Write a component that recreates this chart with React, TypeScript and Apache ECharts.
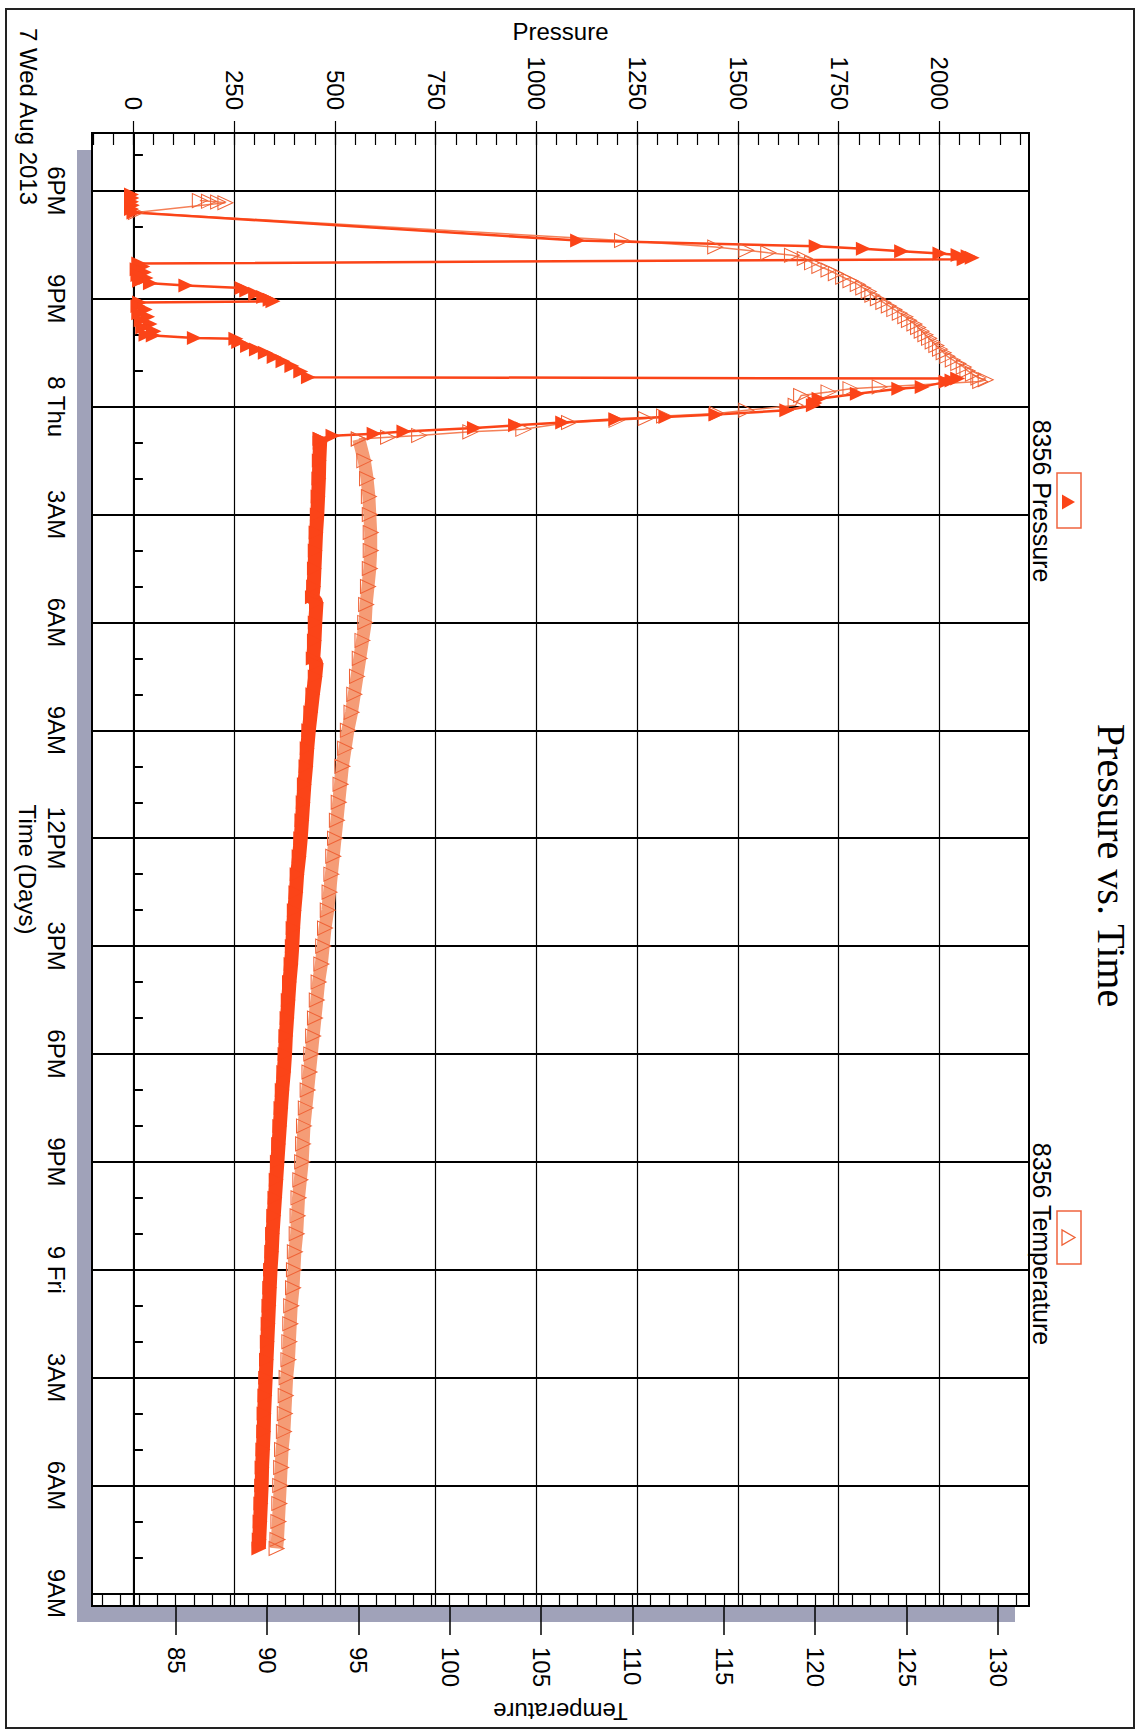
import React, { useEffect, useRef } from 'react';
import * as echarts from 'echarts';

// ---- axis ticks / labels ----
const timeTicks = [18, 21, 24, 27, 30, 33, 36, 39, 42, 45, 48, 51, 54, 57];
const timeTickLabels = ['6PM', '9PM', '8 Thu', '3AM', '6AM', '9AM', '12PM', '3PM', '6PM', '9PM', '9 Fri', '3AM', '6AM', '9AM'];
const timeMinorTicks = Array.from({ length: 41 }, (_, i) => 17 + i);
const pressureTicks = [0, 250, 500, 750, 1000, 1250, 1500, 1750, 2000];
const pressureMinorTicks = Array.from({ length: 47 }, (_, i) => -100 + i * 50);
const temperatureTicks = [85, 90, 95, 100, 105, 110, 115, 120, 125, 130];
const temperatureMinorTicks = Array.from({ length: 51 }, (_, i) => 81 + i);

// ---- series values: [hours since 7 Aug 00:00, value] ----
const pressureRun = [
  [18.1, -6], [18.2, -5], [18.3, -6], [18.4, -4], [18.5, -6], [18.6, 0],
  [19.38, 1101], [19.54, 1693], [19.61, 1810], [19.68, 1905], [19.74, 2000], [19.78, 2045], [19.82, 2070], [19.86, 2080], [19.9, 2060],
  [20.02, 12], [20.1, 22], [20.18, 8], [20.26, 26], [20.34, 10], [20.42, 30], [20.5, 14], [20.57, 41],
  [20.63, 129], [20.7, 268], [20.77, 280], [20.86, 302], [20.95, 322], [21.03, 338], [21.07, 345],
  [21.1, 14], [21.2, 10], [21.3, 28], [21.4, 12], [21.5, 34], [21.6, 18], [21.7, 40], [21.8, 22], [21.9, 50], [22.0, 30],
  [22.02, 48], [22.09, 150], [22.11, 253], [22.2, 260], [22.31, 282], [22.41, 304], [22.5, 326], [22.62, 348], [22.74, 370], [22.87, 392], [23.02, 414], [23.18, 433],
  [23.22, 2044], [23.27, 2030], [23.31, 2015], [23.45, 1956], [23.5, 1898], [23.64, 1795], [23.78, 1700], [23.9, 1690], [23.96, 1686],
  [24.1, 1620], [24.22, 1444], [24.29, 1320], [24.35, 1196], [24.44, 1064], [24.52, 947], [24.59, 845], [24.69, 670], [24.75, 596], [24.81, 494], [24.89, 462]
];
const pressureTail = [
  [24.89, 462], [25.0, 462], [25.5, 460], [26.0, 459], [26.5, 457], [27.0, 455], [27.5, 452], [28.0, 450], [28.5, 448], [29.0, 446], [29.3, 443],
  [29.45, 453], [30.0, 450], [30.5, 448], [31.0, 445], [31.15, 453], [31.5, 450], [32.0, 444], [32.5, 439], [33.0, 434], [33.5, 430],
  [34.0, 427], [34.5, 423], [35.0, 420], [35.5, 417], [36.0, 414], [36.5, 410], [37.0, 405], [37.5, 402], [38.0, 398], [38.5, 395],
  [39.0, 393], [39.5, 390], [40.0, 386], [40.5, 383], [41.0, 380], [41.5, 377], [42.0, 375], [42.5, 372], [43.0, 368], [43.5, 365],
  [44.0, 362], [44.5, 359], [45.0, 356], [45.5, 353], [46.0, 350], [46.5, 347], [47.0, 344], [47.5, 342], [48.0, 339], [48.5, 337],
  [49.0, 335], [49.5, 333], [50.0, 331], [50.5, 329], [51.0, 327], [51.5, 325], [52.0, 323], [52.5, 322], [53.0, 320], [53.5, 318],
  [54.0, 317], [54.5, 315], [55.0, 313], [55.5, 311], [55.75, 310]
];
const temperatureRun = [
  [18.27, 86.3], [18.29, 86.8], [18.31, 87.3], [18.33, 87.7], [18.6, 82.8],
  [19.38, 109.4], [19.56, 114.5], [19.65, 116.2], [19.72, 117.4], [19.79, 118.7], [19.88, 119.4],
  [20.0, 119.8], [20.1, 120.2], [20.2, 120.7], [20.3, 121.1], [20.4, 121.5], [20.5, 121.9], [20.6, 122.3], [20.7, 122.6], [20.8, 122.9], [20.9, 123.1],
  [21.0, 123.4], [21.1, 123.7], [21.2, 124.0], [21.3, 124.3], [21.4, 124.6], [21.5, 124.9], [21.6, 125.1], [21.7, 125.4], [21.8, 125.6], [21.9, 125.8],
  [22.0, 126.0], [22.1, 126.2], [22.2, 126.4], [22.3, 126.6], [22.4, 126.8], [22.5, 127.0], [22.6, 127.2], [22.7, 127.5], [22.8, 127.8], [22.9, 128.1],
  [23.0, 128.3], [23.1, 128.6], [23.2, 128.9], [23.25, 129.3], [23.3, 129.0],
  [23.45, 123.5], [23.5, 121.9], [23.59, 120.7], [23.69, 119.2], [23.96, 118.9], [24.1, 116.2], [24.19, 114.6], [24.26, 111.7], [24.33, 110.7],
  [24.38, 109.1], [24.44, 106.5], [24.63, 104.0], [24.7, 101.1], [24.8, 98.3], [24.85, 96.6], [24.9, 95.0]
];
const temperatureTail = [
  [24.9, 95.0], [25.5, 95.3], [26.0, 95.45], [26.5, 95.55], [27.0, 95.6], [27.5, 95.65], [28.0, 95.65], [28.5, 95.6], [29.0, 95.5], [29.5, 95.4],
  [30.0, 95.35], [30.5, 95.2], [31.0, 95.05], [31.5, 94.9], [32.0, 94.75], [32.5, 94.6], [33.0, 94.4], [33.5, 94.25], [34.0, 94.1], [34.5, 94.0],
  [35.0, 93.9], [35.5, 93.8], [36.0, 93.7], [36.5, 93.6], [37.0, 93.5], [37.5, 93.4], [38.0, 93.3], [38.5, 93.15], [39.0, 93.05], [39.5, 92.95],
  [40.0, 92.8], [40.5, 92.7], [41.0, 92.6], [41.5, 92.5], [42.0, 92.4], [42.5, 92.3], [43.0, 92.2], [43.5, 92.1], [44.0, 92.0], [44.5, 91.95],
  [45.0, 91.9], [45.5, 91.8], [46.0, 91.7], [46.5, 91.65], [47.0, 91.6], [47.5, 91.5], [48.0, 91.45], [48.5, 91.4], [49.0, 91.3], [49.5, 91.25],
  [50.0, 91.2], [50.5, 91.15], [51.0, 91.05], [51.5, 91.0], [52.0, 90.95], [52.5, 90.9], [53.0, 90.8], [53.5, 90.75], [54.0, 90.7], [54.5, 90.65],
  [55.0, 90.6], [55.5, 90.55], [55.75, 90.5]
];

const SANS = '"Liberation Sans", Arial, Helvetica, sans-serif';
const SERIF = '"Liberation Serif", "Times New Roman", serif';
const P_COLOR = '#fb4418';
const T_EDGE = '#ef6236';
const T_LINE = '#f58058';
const T_BAND = '#f59c76';

const TMIN = 16.39, TMAX = 57.35;
const PMIN = -104, PMAX = 2221;
const TEMP_MIN = 80.4, TEMP_MAX = 131.67;

const option: any = {
  animation: false,
  backgroundColor: '#fff',
  textStyle: { fontFamily: SANS },
  title: {
    text: 'Pressure vs. Time', left: 'center', top: 13, padding: 0,
    textStyle: { fontFamily: SERIF, fontSize: 40, fontWeight: 'normal', color: '#000' }
  },
  grid: { left: 133, right: 123, top: 115, bottom: 92, show: true, backgroundColor: '#fff', borderColor: '#000', borderWidth: 2 },
  xAxis: [
    {
      type: 'value', position: 'bottom', min: TMIN, max: TMAX,
      name: 'Time (Days)', nameLocation: 'middle', nameGap: 52,
      nameTextStyle: { fontSize: 24, color: '#000', fontFamily: SANS },
      axisLine: { show: true, lineStyle: { color: '#000', width: 2 } },
      axisTick: { show: true, customValues: timeTicks, length: 20, lineStyle: { color: '#000', width: 2 } },
      axisLabel: {
        customValues: timeTicks, fontSize: 24, color: '#000', margin: 24, fontFamily: SANS,
        formatter: (v: number) => { const i = timeTicks.indexOf(Math.round(v)); return i >= 0 ? timeTickLabels[i] : ''; }
      },
      splitLine: { show: true, lineStyle: { color: '#000', width: 2 } }
    },
    {
      type: 'value', position: 'bottom', min: TMIN, max: TMAX,
      axisLine: { show: false },
      axisTick: { show: true, inside: true, customValues: timeMinorTicks, length: 9, lineStyle: { color: '#000', width: 2 } },
      axisLabel: { show: false }, splitLine: { show: false }
    }
  ],
  yAxis: [
    {
      type: 'value', position: 'left', min: PMIN, max: PMAX,
      name: 'Pressure', nameLocation: 'middle', nameGap: 90,
      nameTextStyle: { fontSize: 24, color: '#000', fontFamily: SANS },
      axisLine: { show: true, lineStyle: { color: '#000', width: 2 } },
      axisTick: { show: true, customValues: pressureTicks, length: 12, lineStyle: { color: '#000', width: 1.2 } },
      axisLabel: {
        customValues: pressureTicks, fontSize: 24, color: '#000', margin: 23, fontFamily: SANS,
        formatter: (v: number) => String(Math.round(v))
      },
      splitLine: { show: true, lineStyle: { color: '#000', width: 1.2 } }
    },
    {
      type: 'value', position: 'left', min: PMIN, max: PMAX,
      axisLine: { show: false },
      axisTick: { show: true, inside: true, customValues: pressureMinorTicks, length: 12, lineStyle: { color: '#000', width: 1.2 } },
      axisLabel: { show: false }, splitLine: { show: false }
    },
    {
      type: 'value', position: 'right', min: TEMP_MIN, max: TEMP_MAX,
      name: 'Temperature', nameLocation: 'middle', nameGap: 93, nameRotate: -90,
      nameTextStyle: { fontSize: 24, color: '#000', fontFamily: SANS },
      axisLine: { show: true, lineStyle: { color: '#000', width: 2 } },
      axisTick: { show: true, customValues: temperatureTicks, length: 29, lineStyle: { color: '#000', width: 1.5 } },
      axisLabel: {
        customValues: temperatureTicks, fontSize: 24, color: '#000', margin: 41, fontFamily: SANS,
        formatter: (v: number) => String(Math.round(v))
      },
      splitLine: { show: false }
    },
    {
      type: 'value', position: 'right', min: TEMP_MIN, max: TEMP_MAX,
      axisLine: { show: false },
      axisTick: { show: true, inside: true, customValues: temperatureMinorTicks, length: 13, lineStyle: { color: '#000', width: 1.2 } },
      axisLabel: { show: false }, splitLine: { show: false }
    }
  ],
  graphic: [
    { type: 'rect', z: -10, silent: true, shape: { x: 150, y: 129, width: 1472, height: 938 }, style: { fill: '#a0a2b9' } },
    { type: 'rect', z: 100, silent: true, shape: { x: 9, y: 10, width: 1719, height: 1128 }, style: { fill: 'none', stroke: '#222', lineWidth: 2 } },
    // legend: pressure
    { type: 'rect', z: 100, silent: true, shape: { x: 473, y: 63, width: 55, height: 24 }, style: { fill: '#fff', stroke: '#f0643f', lineWidth: 1.5 } },
    { type: 'polygon', z: 101, silent: true, shape: { points: [[494.5, 82], [509.5, 82], [502, 69]] }, style: { fill: P_COLOR } },
    { type: 'text', z: 100, silent: true, x: 501, y: 102, style: { text: '8356 Pressure', fill: '#000', fontSize: 25, fontFamily: SANS, align: 'center', verticalAlign: 'middle' } },
    // legend: temperature
    { type: 'rect', z: 100, silent: true, shape: { x: 1211, y: 63, width: 53, height: 24 }, style: { fill: '#fff', stroke: '#f0643f', lineWidth: 1.5 } },
    { type: 'polygon', z: 101, silent: true, shape: { points: [[1230, 82], [1245, 82], [1237.5, 69]] }, style: { fill: 'none', stroke: T_EDGE, lineWidth: 1.3 } },
    { type: 'text', z: 100, silent: true, x: 1244, y: 102, style: { text: '8356 Temperature', fill: '#000', fontSize: 25, fontFamily: SANS, align: 'center', verticalAlign: 'middle' } },
    // date row label
    { type: 'text', z: 100, silent: true, x: 28, y: 1116, style: { text: '7 Wed Aug 2013', fill: '#000', fontSize: 24, fontFamily: SANS, align: 'left', verticalAlign: 'middle' } }
  ],
  series: [
    {
      type: 'line', name: '8356 Temperature', xAxisIndex: 0, yAxisIndex: 2, data: temperatureTail,
      symbol: 'triangle', symbolSize: [14, 15], silent: true, emphasis: { disabled: true },
      lineStyle: { color: T_BAND, width: 13 },
      itemStyle: { color: 'rgba(255,255,255,0)', borderColor: T_EDGE, borderWidth: 1 }
    },
    {
      type: 'line', name: '8356 Temperature', xAxisIndex: 0, yAxisIndex: 2, data: temperatureRun,
      symbol: 'triangle', symbolSize: [14, 15], silent: true, emphasis: { disabled: true },
      lineStyle: { color: T_LINE, width: 1.5 },
      itemStyle: { color: 'rgba(255,255,255,0)', borderColor: T_EDGE, borderWidth: 1 }
    },
    {
      type: 'line', name: '8356 Pressure', xAxisIndex: 0, yAxisIndex: 0, data: pressureTail,
      symbol: 'triangle', symbolSize: [14, 15], silent: true, emphasis: { disabled: true },
      lineStyle: { color: P_COLOR, width: 14 },
      itemStyle: { color: P_COLOR }
    },
    {
      type: 'line', name: '8356 Pressure', xAxisIndex: 0, yAxisIndex: 0, data: pressureRun,
      symbol: 'triangle', symbolSize: [14, 15], silent: true, emphasis: { disabled: true },
      lineStyle: { color: P_COLOR, width: 2.5 },
      itemStyle: { color: P_COLOR }
    }
  ]
};

export default function App() {
  const ref = useRef<HTMLDivElement>(null);
  useEffect(() => {
    if (!ref.current) return;
    const chart = echarts.init(ref.current, null, { renderer: 'svg' });
    chart.setOption(option);
    return () => chart.dispose();
  }, []);
  return (
    <div style={{ position: 'absolute', left: 0, top: 0, width: 1144, height: 1731, overflow: 'hidden', background: '#fff' }}>
      <div
        ref={ref}
        style={{
          position: 'absolute', left: 0, top: 0, width: 1731, height: 1144,
          transformOrigin: '0 0', transform: 'translateX(1144px) rotate(90deg)'
        }}
      />
    </div>
  );
}
